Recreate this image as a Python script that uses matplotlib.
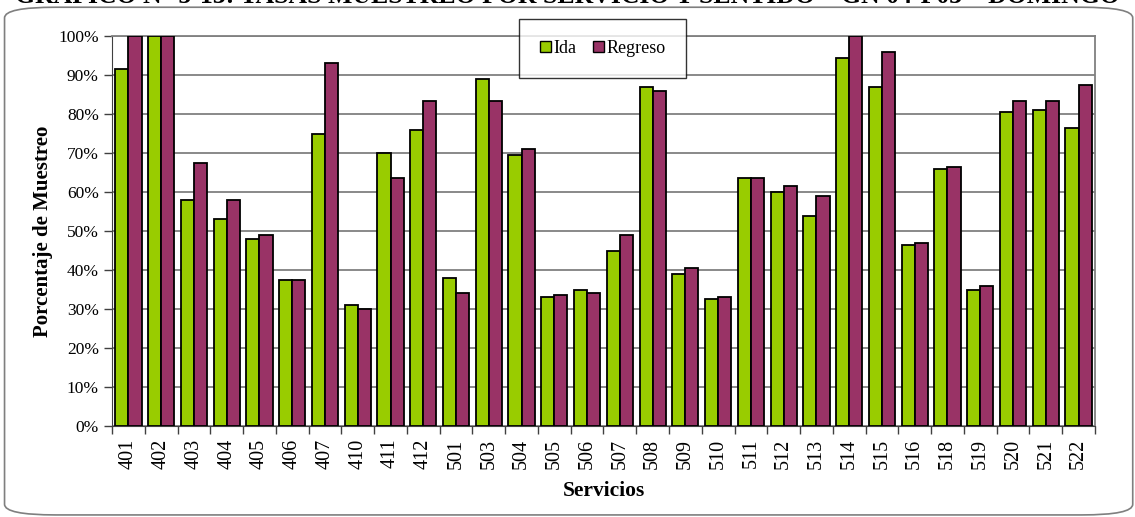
import numpy as np
import matplotlib
matplotlib.use("Agg")
import matplotlib.pyplot as plt
from matplotlib.patches import FancyBboxPatch, Patch
from matplotlib.ticker import PercentFormatter, FixedLocator

plt.rcParams['font.family'] = ['Liberation Serif', 'DejaVu Serif']

# Data
servicios = ['401', '402', '403', '404', '405', '406', '407', '410', '411', '412',
             '501', '503', '504', '505', '506', '507', '508', '509', '510', '511',
             '512', '513', '514', '515', '516', '518', '519', '520', '521', '522']
ida = [91.5, 100, 58, 53, 48, 37.5, 75, 31, 70, 76,
       38, 89, 69.5, 33, 35, 45, 87, 39, 32.5, 63.5,
       60, 54, 94.5, 87, 46.5, 66, 35, 80.5, 81, 76.5]
regreso = [100, 100, 67.5, 58, 49, 37.5, 93, 30, 63.5, 83.5,
           34, 83.5, 71, 33.5, 34, 49, 86, 40.5, 33, 63.5,
           61.5, 59, 100, 96, 47, 66.5, 36, 83.5, 83.5, 87.5]

green = '#99CC00'
purple = '#993366'

fig = plt.figure(figsize=(11.35, 5.17), dpi=100)

# rounded frame around the chart
frame = FancyBboxPatch((0.004, 0.004), 0.994, 0.982,
                       boxstyle="round,pad=0,rounding_size=0.045",
                       transform=fig.transFigure, facecolor='none',
                       edgecolor='#7f7f7f', linewidth=1.2, mutation_aspect=517/1135,
                       zorder=-1)
fig.patches.append(frame)

# title, partly cut at the top as in the source
fig.text(0.5, 1.007, 'GRÁFICO N° 5-13: TASAS MUESTREO POR SERVICIO Y SENTIDO – GN 04-P03 – DOMINGO',
         ha='center', va='center', fontsize=18.5, fontweight='bold')

ax = fig.add_axes([0.0987, 0.176, 0.866, 0.754])

x = np.arange(len(servicios))
w = 0.4
ax.bar(x - w / 2, ida, w, color=green, edgecolor='black', linewidth=1.3, zorder=3, label='Ida')
ax.bar(x + w / 2, regreso, w, color=purple, edgecolor='black', linewidth=1.3, zorder=3, label='Regreso')

ax.set_xlim(-0.5, len(servicios) - 0.5)
ax.set_ylim(0, 100)
ax.set_yticks(np.arange(0, 101, 10))
ax.yaxis.set_major_formatter(PercentFormatter(decimals=0))
ax.set_xticks(x)
ax.set_xticklabels(servicios, rotation=90, fontsize=14.5)
ax.xaxis.set_minor_locator(FixedLocator(np.arange(-0.5, len(servicios), 1)))
ax.tick_params(axis='x', which='major', length=0, pad=9)
ax.tick_params(axis='x', which='minor', length=6, width=1, direction='out', color='#404040')
ax.tick_params(axis='y', length=6, width=1, direction='out', labelsize=12.5, color='#404040')

ax.grid(axis='y', color='#808080', linewidth=1.3, zorder=0)
for side in ['top', 'right']:
    ax.spines[side].set_color('#808080')
    ax.spines[side].set_linewidth(1.3)
ax.spines['left'].set_color('#404040')
ax.spines['bottom'].set_color('#404040')

ax.set_ylabel('Porcentaje de Muestreo', fontsize=15, fontweight='bold', labelpad=4)
ax.set_xlabel('Servicios', fontsize=15.5, fontweight='bold', labelpad=9)

handles = [Patch(facecolor=green, edgecolor='black', label='Ida'),
           Patch(facecolor=purple, edgecolor='black', label='Regreso')]
leg = fig.legend(handles=handles, loc='center', bbox_to_anchor=(0.531, 0.906), ncol=2,
                 frameon=True, fancybox=False, edgecolor='black', fontsize=13,
                 handlelength=0.6, handleheight=0.6, handletextpad=0.15, columnspacing=0.9,
                 borderpad=1.15, borderaxespad=0)
leg.get_frame().set_linewidth(1.0)

fig.savefig('out.png', dpi=100)
